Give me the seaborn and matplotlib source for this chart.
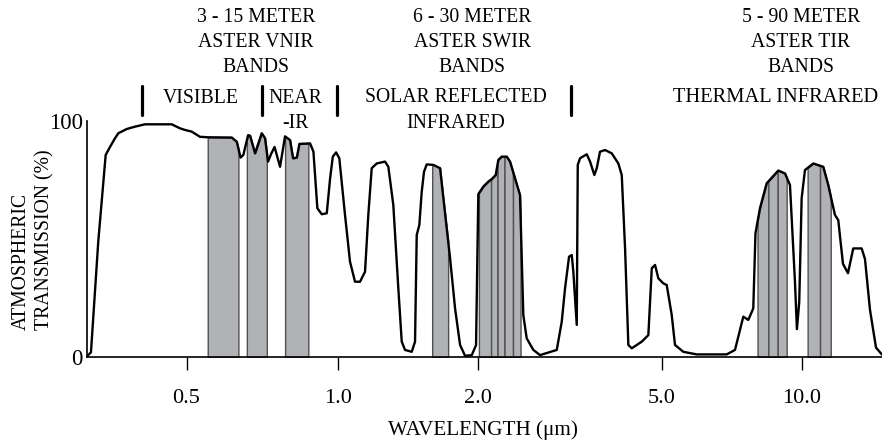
import numpy as np
import pandas as pd
import matplotlib
matplotlib.use("Agg")
import matplotlib.pyplot as plt
from matplotlib.lines import Line2D
import seaborn as sns

# ---------------- data ----------------
wavelength_um = [
    0.3178, 0.3229, 0.3339, 0.3454, 0.3523, 0.3605, 0.3659, 0.3803, 0.3950, 0.4135,
    0.4672, 0.4853, 0.4966, 0.5120, 0.5318, 0.5524, 0.6150, 0.6293, 0.6403, 0.6485,
    0.6627, 0.6687, 0.6842, 0.7054, 0.7162, 0.7261, 0.7362, 0.7480, 0.7671, 0.7848,
    0.8031, 0.8141, 0.8281, 0.8380, 0.8801, 0.8936, 0.9099, 0.9285, 0.9499, 0.9645,
    0.9765, 0.9913, 1.0065, 1.0353, 1.0612, 1.0878, 1.1151, 1.1431, 1.1619, 1.1816,
    1.2113, 1.2622, 1.2830, 1.3150, 1.3480, 1.3709, 1.3935, 1.4405, 1.4643, 1.4765,
    1.4957, 1.5136, 1.5308, 1.5515, 1.6032, 1.6576, 1.6849, 1.7135, 1.7417, 1.7852,
    1.8300, 1.8759, 1.9392, 1.9806, 2.0030, 2.0536, 2.1056, 2.1417, 2.1848, 2.2134,
    2.2513, 2.3083, 2.3467, 2.4060, 2.4667, 2.5076, 2.5505, 2.6365, 2.7261, 2.9635,
    3.0384, 3.0886, 3.1510, 3.1940, 3.2192, 3.2745, 3.2910, 3.3290, 3.4420, 3.4996,
    3.5754, 3.6184, 3.6782, 3.7714, 3.8996, 4.0302, 4.0994, 4.1680, 4.2368, 4.3096,
    4.4190, 4.5302, 4.6820, 4.7624, 4.8410, 4.9220, 5.0444, 5.1301, 5.2580, 5.3439,
    5.5674, 5.9475, 6.8960, 7.1845, 7.4850, 7.6715, 7.8625, 7.9480, 8.1255, 8.3995,
    8.8935, 9.1935, 9.4225, 9.6575, 9.7515, 9.8640, 9.9810, 10.1455, 10.570, 11.104,
    11.380, 11.762, 11.956, 12.237, 12.542, 12.873, 13.418, 13.640, 13.980, 14.400,
    14.833,
]
transmission_pct = [
    0.5, 2.0, 49.0, 85.6, 89.0, 92.7, 94.8, 96.6, 97.6, 98.6,
    98.6, 96.9, 96.2, 95.5, 93.3, 93.1, 93.0, 91.2, 84.5, 85.6,
    94.0, 93.8, 86.3, 94.8, 92.7, 82.8, 86.0, 89.0, 80.6, 93.5,
    91.9, 84.2, 84.5, 90.3, 90.5, 87.0, 63.0, 60.5, 60.9, 75.7,
    84.9, 86.7, 84.2, 60.2, 40.4, 31.9, 31.9, 36.1, 60.2, 80.0,
    82.0, 82.8, 80.6, 64.4, 29.1, 6.5, 3.0, 2.2, 6.5, 51.7,
    55.9, 70.0, 78.5, 81.6, 81.4, 80.0, 67.2, 54.5, 41.8, 20.6,
    5.1, 0.5, 0.8, 5.0, 69.0, 72.2, 74.3, 75.4, 77.1, 83.5,
    84.9, 84.9, 82.8, 75.7, 68.6, 17.8, 7.9, 3.0, 0.8, 3.0,
    15.0, 29.1, 42.5, 43.2, 36.1, 13.6, 81.4, 84.2, 85.9, 82.8,
    77.1, 80.0, 87.0, 87.7, 86.3, 82.0, 77.1, 46.0, 5.1, 3.7,
    5.1, 6.5, 9.3, 37.6, 39.0, 33.3, 31.2, 30.5, 17.8, 5.1,
    2.2, 1.1, 1.1, 3.0, 17.1, 15.7, 20.6, 52.4, 63.0, 73.6,
    79.0, 77.8, 72.9, 31.9, 11.8, 23.4, 67.2, 79.2, 82.0, 80.6,
    72.9, 60.2, 58.0, 39.5, 35.5, 46.0, 46.0, 41.5, 20.0, 4.0,
    1.0,
]

vnir_bands_um = [(0.551, 0.634), (0.659, 0.722), (0.785, 0.873)]
swir_bands_um = [(1.594, 1.725), (2.009, 2.135), (2.135, 2.205), (2.205, 2.283),
                 (2.283, 2.382), (2.382, 2.473)]
tir_bands_um = [(8.03, 8.47), (8.47, 8.87), (8.87, 9.27), (10.28, 10.93), (10.93, 11.52)]

tick_values = [0.5, 1.0, 2.0, 5.0, 10.0]
tick_labels = ["0.5", "1.0", "2.0", "5.0", "10.0"]

sensor_titles = ["3 - 15 METER\nASTER VNIR\nBANDS",
                 "6 - 30 METER\nASTER SWIR\nBANDS",
                 "5 - 90 METER\nASTER TIR\nBANDS"]
region_names = ["VISIBLE", "NEAR\n-IR", "SOLAR REFLECTED\nINFRARED", "THERMAL INFRARED"]

# hand-drawn (approximately logarithmic) wavelength axis of the original figure
AXIS_ANCHOR_UM = np.array([0.2, 0.5, 1.0, 2.0, 5.0, 10.0, 20.0])
AXIS_ANCHOR_POS = np.array([-13.7, 186.5, 338.0, 478.0, 661.5, 802.0, 942.6])
AXIS_LOG = np.log10(AXIS_ANCHOR_UM)


def fwd(w):
    w = np.asarray(w, dtype=float)
    return np.interp(np.log10(np.clip(w, 1e-6, None)), AXIS_LOG, AXIS_ANCHOR_POS)


def inv(p):
    p = np.asarray(p, dtype=float)
    return 10 ** np.interp(p, AXIS_ANCHOR_POS, AXIS_LOG)


# ---------------- style ----------------
sns.set_theme(style="white")
plt.rcParams["font.family"] = ["Liberation Serif", "DejaVu Serif"]
plt.rcParams["text.color"] = "black"

FS = 14.2
W, H = 882, 441
fig = plt.figure(figsize=(W / 100, H / 100), dpi=100)
ax = fig.add_axes([87 / W, 84 / H, 795 / W, 236 / H])
ax.set_xscale("function", functions=(fwd, inv))

df = pd.DataFrame({"wavelength": wavelength_um, "transmission": transmission_pct})

# shaded ASTER bands, filled up to the transmission curve
wl = np.array(wavelength_um)
tr = np.array(transmission_pct)
logwl = np.log10(wl)
for lo, hi in vnir_bands_um + swir_bands_um + tir_bands_um:
    inner = wl[(wl > lo) & (wl < hi)]
    xs = np.concatenate([[lo], inner, [hi]])
    ys = np.interp(np.log10(xs), logwl, tr)
    ax.fill_between(xs, 0, ys, facecolor="#b1b2b6", edgecolor="#505050",
                    linewidth=1.0, zorder=1)

sns.lineplot(data=df, x="wavelength", y="transmission", ax=ax, color="black",
             linewidth=1.7, sort=False, estimator=None, zorder=3)

ax.set_xlim(0.3171, 14.833)
ax.set_ylim(0, 100)
ax.set_xticks(tick_values)
ax.set_xticklabels(tick_labels)
ax.xaxis.set_minor_locator(matplotlib.ticker.NullLocator())
ax.set_yticks([0, 100])
ax.set_yticklabels(["0", "100"])
ax.tick_params(axis="x", direction="out", length=9, width=1.0, pad=14,
               labelsize=16, colors="black", bottom=True)
ax.tick_params(axis="y", length=0, pad=3, labelsize=16.5, colors="black")
ax.set_xlabel("")
ax.set_ylabel("")
for s in ["top", "right"]:
    ax.spines[s].set_visible(False)
for s in ["left", "bottom"]:
    ax.spines[s].set_color("black")
    ax.spines[s].set_linewidth(1.2)


def fx(px):
    return px / W


def fy(py):
    return 1 - py / H


fig.text(fx(483), fy(430), "WAVELENGTH (\u03bcm)", ha="center", va="center", fontsize=15.2)
fig.text(fx(33), fy(240), "ATMOSPHERIC\nTRANSMISSION (%)", ha="center", va="center",
         rotation=90, fontsize=FS, linespacing=1.3, multialignment="left")

for title, cx in zip(sensor_titles, [256, 472, 801]):
    fig.text(fx(cx), fy(42.5), title, ha="center", va="center", fontsize=FS,
             linespacing=1.42, multialignment="center")

fig.text(fx(201), fy(98.5), region_names[0], ha="center", va="center", fontsize=FS)
fig.text(fx(295), fy(111), region_names[1], ha="center", va="center", fontsize=FS,
         linespacing=1.48, multialignment="center")
fig.text(fx(456), fy(110.5), region_names[2], ha="center", va="center", fontsize=FS,
         linespacing=1.45, multialignment="center")
fig.text(fx(776), fy(97.5), region_names[3], ha="center", va="center", fontsize=14.8)

for bx in [142, 262, 337, 571]:
    fig.add_artist(Line2D([fx(bx), fx(bx)], [fy(86), fy(115)], color="black",
                          linewidth=2.3, transform=fig.transFigure))

fig.savefig("out.png", dpi=100)
